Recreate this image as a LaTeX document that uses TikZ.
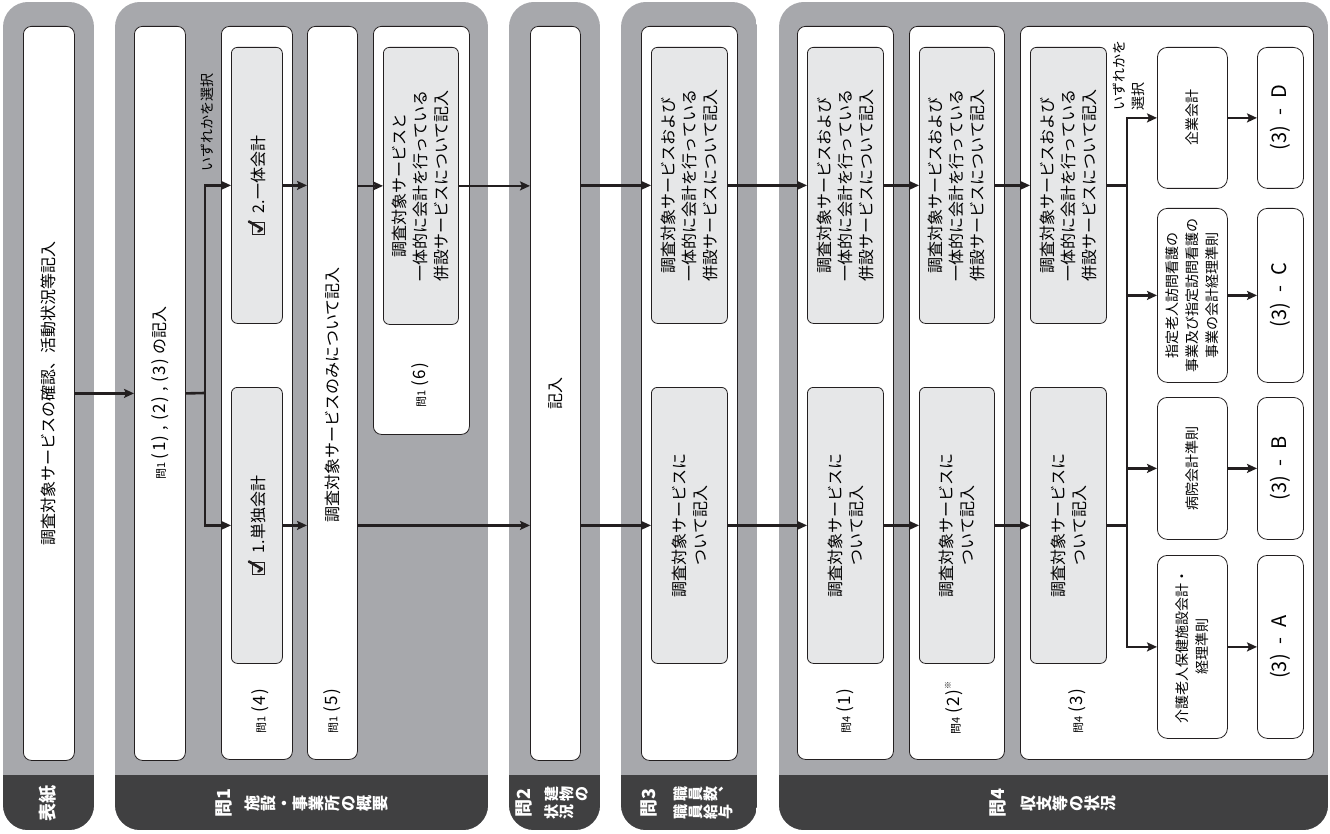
\documentclass[tikz,border=0pt]{standalone}
\usepackage{fontspec}
\usepackage{graphicx}
\setmainfont{Noto Sans CJK JP}
\usetikzlibrary{arrows.meta}
\definecolor{panelgray}{RGB}{167,168,172}
\definecolor{darkbar}{RGB}{64,64,65}
\definecolor{boxgray}{RGB}{230,231,232}
\definecolor{inkblack}{RGB}{35,31,32}

% one rotated glyph after the other (vertical writing turned on its side)
\newcommand\tatechar[1]{\ifx#1\relax\else\rotatebox{90}{\makebox[1em]{\rule[-0.12em]{0pt}{1em}#1}}\expandafter\tatechar\fi}
\newcommand\tate[1]{\tatechar#1\relax}
\newcommand\chk{\tikz[x=1pt,y=1pt,baseline=0pt]{\draw[line width=1.2pt,inkblack] (0,0) rectangle (12,12);
  \draw[line width=2.6pt,inkblack,line join=round,line cap=round] (3,6.5) -- (5.5,2.8) -- (13,16);}}
\newcommand\smq[1]{{\fontsize{11}{13}\selectfont #1}}
\newcommand\pn[1]{{\fontsize{17}{20}\selectfont(\kern1.5pt#1\kern1.5pt)}}

\begin{document}
\begin{tikzpicture}[x=1pt,y=-1pt,
    sheet/.style={draw=inkblack,line width=0.8pt,fill=white,rounded corners=8pt,anchor=north west,inner sep=0pt},
    shadebox/.style={draw=inkblack,line width=0.8pt,fill=boxgray,rounded corners=6pt,anchor=north west,inner sep=0pt},
    choice/.style={draw=inkblack,line width=0.8pt,fill=white,rounded corners=10pt,anchor=north west,inner sep=0pt},
    size/.style 2 args={minimum width=#1pt,minimum height=#2pt},
    vtext/.style={rotate=90,align=center,inner sep=0pt,font=\fontsize{16}{21}\selectfont},
    small/.style={rotate=90,align=center,inner sep=0pt,font=\fontsize{14}{20}\selectfont},
    foot/.style={text=white,inner sep=0pt,font=\bfseries\fontsize{18}{20}\selectfont},
    flow/.style={line width=2.6pt,inkblack,-{Stealth[length=10pt,width=9pt,inset=2pt]}},
    link/.style={line width=2.6pt,inkblack}]
\useasboundingbox (0,0) rectangle (1330,834);

% column panels
\foreach \xa/\xb in {3/94,115/488,509/600,621/757,779/1328}{
  \begin{scope}
    \clip[rounded corners=25pt] (\xa,2) rectangle (\xb,830);
    \fill[panelgray] (\xa,2) rectangle (\xb,830);
    \fill[darkbar] (\xa,775) rectangle (\xb,830);
  \end{scope}
}

% white sheets
\node[sheet,size={51}{734}] (cover) at (23,26) {};
\node[sheet,size={51}{734}] (q1a) at (134,26) {};
\node[sheet,size={71}{733}] (q14) at (221,26) {};
\node[sheet,size={50}{733}] (q15) at (307,26) {};
\node[sheet,size={96}{408}] (q16) at (373,26) {};
\node[sheet,size={50}{734}] (q2) at (530,26) {};
\node[sheet,size={96}{734}] (q3) at (641,26) {};
\node[sheet,size={96}{733}] (q41) at (797,26) {};
\node[sheet,size={95}{733}] (q42) at (909,26) {};
\node[sheet,size={293}{733}] (q43) at (1020,26) {};

% grey boxes
\node[shadebox,size={51}{276}] (acc2) at (231,47) {};
\node[shadebox,size={51}{276}] (acc1) at (231,387) {};
\node[shadebox,size={75}{277}] (q16g) at (383,47) {};
\node[shadebox,size={76}{276}] (q3u) at (651,47) {};
\node[shadebox,size={76}{276}] (q3l) at (651,387) {};
\node[shadebox,size={76}{276}] (q41u) at (807,47) {};
\node[shadebox,size={76}{276}] (q41l) at (807,387) {};
\node[shadebox,size={75}{276}] (q42u) at (919,47) {};
\node[shadebox,size={75}{276}] (q42l) at (919,387) {};
\node[shadebox,size={76}{276}] (q43u) at (1030,47) {};
\node[shadebox,size={76}{276}] (q43l) at (1030,387) {};

% accounting standards
\node[choice,size={70}{141}] (accD) at (1157,47) {};
\node[choice,size={70}{174}] (accC) at (1157,208) {};
\node[choice,size={70}{142}] (accB) at (1157,397) {};
\node[choice,size={70}{183}] (accA) at (1157,555) {};
\node[choice,size={46}{141}] (resD) at (1257,47) {};
\node[choice,size={46}{174}] (resC) at (1257,208) {};
\node[choice,size={46}{142}] (resB) at (1257,397) {};
\node[choice,size={46}{183}] (resA) at (1257,555) {};

% texts
\node[vtext] (tcover) at (cover.center) {調査対象サービスの確認、活動状況等記入};
\node[vtext] (tq1a) at (q1a.center) {\smq{問1}\ \pn{1}\hspace{5pt},\hspace{5pt}\pn{2}\hspace{5pt},\hspace{5pt}\pn{3}\ の記入};
\node[vtext] (tacc2) at (acc2.center) {\chk\ \ 2.一体会計};
\node[vtext] (tacc1) at (acc1.center) {\chk\ \ 1.単独会計};
\node[vtext] (l14) at (260,711) {\smq{問1}\ \pn{4}};
\node[vtext] (tq15) at (332,395) {調査対象サービスのみについて記入};
\node[vtext] (l15) at (332,711) {\smq{問1}\ \pn{5}};
\node[vtext] (tq16) at (q16g.center) {調査対象サービスと\\一体的に会計を行っている\\併設サービスについて記入};
\node[vtext] (l16) at (420,385) {\smq{問1}\ \pn{6}};
\node[small] (pick1) at (207,123) {いずれかを選択};
\node[vtext] (tq2) at (q2.center) {記入};
\foreach \n in {q3u,q41u,q42u,q43u}
  \node[vtext] (t\n) at (\n.center) {調査対象サービスおよび\\一体的に会計を行っている\\併設サービスについて記入};
\foreach \n in {q3l,q41l,q42l,q43l}
  \node[vtext] (t\n) at (\n.center) {調査対象サービスに\\ついて記入};
\node[vtext] (l41) at (845,711) {\smq{問4}\ \pn{1}};
\node[vtext] (l42) at (954,708) {\smq{問4}\ \pn{2}\raisebox{9pt}{\fontsize{8}{8}\selectfont ※}};
\node[vtext] (l43) at (1077,711) {\smq{問4}\ \pn{3}};
\node[small,anchor=north west,align=left,font=\fontsize{14}{19}\selectfont] (pick2) at (1113,111) {いずれかを\\選択};
\node[small] (taccD) at (accD.center) {企業会計};
\node[small] (taccC) at (accC.center) {指定老人訪問看護の\\事業及び指定訪問看護の\\事業の会計経理準則};
\node[small] (taccB) at (accB.center) {病院会計準則};
\node[small] (taccA) at (accA.center) {介護老人保健施設会計・\\経理準則};
\foreach \n/\s in {resD/D,resC/C,resB/B,resA/A}
  \node[vtext,font=\fontsize{20}{24}\selectfont] (t\n) at (\n.center) {(3)\hspace{0.5em}-\hspace{0.5em}\s};

% footer titles
\node[foot,rotate=90] (f0) at (48,803) {表紙};
\node[foot,rotate=90] (f1) at (224,803) {問1};
\node[foot,anchor=west,font=\bfseries\fontsize{16}{19}\selectfont] (f1t) at (244,803) {\tate{施設・事業所の概要}};
\node[foot,rotate=90] (f2) at (524,803) {問2};
\node[foot,anchor=west,align=left,font=\bfseries\fontsize{15}{18}\selectfont] (f2t) at (544,803) {\tate{建物の}\\\tate{状況}};
\node[foot,rotate=90] (f3) at (649,803) {問3};
\node[foot,anchor=west,align=left,font=\bfseries\fontsize{15}{18}\selectfont] (f3t) at (673,803) {\tate{職員数︑}\\\tate{職員給与}};
\node[foot,rotate=90] (f4) at (998,803) {問4};
\node[foot,anchor=west,font=\bfseries\fontsize{16}{19}\selectfont] (f4t) at (1020,803) {\tate{収支等の状況}};

% flow
\coordinate (fork1) at (205,393);
\coordinate (fork2) at (1127,0);
\draw[flow] (cover.east) -- (q1a.west);
\draw[link] (q1a.east) -- (fork1);
\draw[flow] (fork1) |- (acc2.west);
\draw[flow] (fork1) |- (acc1.west);
\draw[flow] (acc2.east) -- (q15.west |- acc2.east);
\draw[flow] (acc1.east) -- (q15.west |- acc1.east);
\draw[flow] (q15.east |- q16g.west) -- (q16g.west);
\draw[flow] (q16g.east) -- (q2.west |- q16g.east);
\draw[flow] (q15.east |- acc1.east) -- (q2.west |- acc1.east);
\draw[flow] (q2.east |- q3u.west) -- (q3u.west);
\draw[flow] (q2.east |- q3l.west) -- (q3l.west);
\foreach \a/\b in {q3u/q41u,q41u/q42u,q42u/q43u,q3l/q41l,q41l/q42l,q42l/q43l}
  \draw[flow] (\a.east) -- (\b.west);
\draw[link] (q43u.east) -- (q43u.east -| fork2);
\draw[link] (q43l.east) -- (q43l.east -| fork2);
\draw[link,line cap=rect] (fork2 |- accD.west) -- (fork2 |- accA.west);
\foreach \n/\r in {accD/resD,accC/resC,accB/resB,accA/resA}{
  \draw[flow] (fork2 |- \n.west) -- (\n.west);
  \draw[flow] (\n.east) -- (\r.west);
}
\end{tikzpicture}
\end{document}
